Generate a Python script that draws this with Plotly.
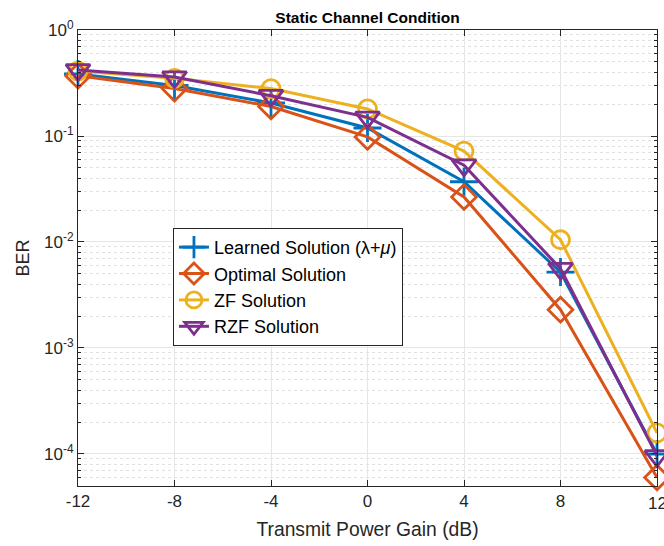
import plotly.graph_objects as go

# Transmit power gain (dB)
gain_db = [-12, -8, -4, 0, 4, 8, 12]

# Bit error rate per precoding scheme
ber_learned = [0.385, 0.30, 0.205, 0.119, 0.037, 0.0052, 1.0e-4]
ber_optimal = [0.37, 0.28, 0.19, 0.098, 0.0266, 0.0023, 6.0e-5]
ber_zf = [0.41, 0.35, 0.28, 0.18, 0.072, 0.0105, 1.58e-4]
ber_rzf = [0.42, 0.36, 0.24, 0.15, 0.053, 0.0056, 9.6e-5]

series_names = ["Learned Solution (λ+<i>μ</i>)", "Optimal Solution", "ZF Solution", "RZF Solution"]
series_values = [ber_learned, ber_optimal, ber_zf, ber_rzf]

x_ticks = [-12, -8, -4, 0, 4, 8, 12]
x_ticktext = ["-12", "-8", "-4", "0", "4", "8", "12"]
y_ticks = [1e-4, 1e-3, 1e-2, 1e-1, 1e0]
y_ticktext = ["10<sup>-4</sup>", "10<sup>-3</sup>", "10<sup>-2</sup>", "10<sup>-1</sup>", "10<sup>0</sup>"]

colors = ["#0072BD", "#D95319", "#EDB120", "#7E2F8E"]
symbols = ["cross-thin-open", "diamond-open", "circle-open", "triangle-down-open"]
sizes = [20, 19, 18, 21]

fig = go.Figure()
for i, (name, vals) in enumerate(zip(series_names, series_values)):
    fig.add_trace(go.Scatter(
        x=gain_db, y=vals, name=name, mode="lines+markers",
        line=dict(color=colors[i], width=3),
        marker=dict(symbol=symbols[i], size=sizes[i], color=colors[i],
                    line=dict(color=colors[i], width=2.8)),
        cliponaxis=False,
    ))

minor_vals = []
for e in range(-5, 0):
    for m in range(2, 10):
        v = m * 10 ** e
        if 5e-5 <= v <= 1:
            minor_vals.append(v)

axis_color = "#262626"
font_family = "Liberation Sans, Arial, sans-serif"

# The last x tick label sits at the figure edge; draw it as an annotation so it is not dropped
fig.add_annotation(x=x_ticks[-1], y=0, xref="x", yref="paper", text=x_ticktext[-1],
                   showarrow=False, xanchor="center", yanchor="top", yshift=-6,
                   font=dict(size=17, color=axis_color, family=font_family))

fig.update_layout(
    width=664, height=546,
    margin=dict(l=78, r=7, t=30, b=60),
    paper_bgcolor="white", plot_bgcolor="white",
    font=dict(family=font_family, size=17, color=axis_color),
    title=dict(text="<b>Static Channel Condition</b>", x=0.5, xref="paper",
               y=1, yref="paper", yanchor="bottom", pad=dict(b=7),
               font=dict(size=15.5, color="black")),
    xaxis=dict(
        range=[-12, 12], tickvals=x_ticks[:-1], ticktext=x_ticktext[:-1], ticks="inside",
        ticklen=6, tickcolor=axis_color, showline=True, linecolor=axis_color,
        linewidth=1, mirror="ticks", showgrid=True, gridcolor="#E6E6E6",
        gridwidth=1, zeroline=False,
        title=dict(text="Transmit Power Gain (dB)", standoff=12, font=dict(size=19.3)),
        tickfont=dict(size=17),
    ),
    yaxis=dict(
        type="log", range=[-4.302, 0], tickvals=y_ticks, ticktext=y_ticktext,
        ticks="inside", ticklen=6, tickcolor=axis_color, showline=True,
        linecolor=axis_color, linewidth=1, mirror="ticks", showgrid=True,
        gridcolor="#E6E6E6", gridwidth=1, zeroline=False,
        title=dict(text="BER", standoff=9, font=dict(size=18)),
        tickfont=dict(size=17),
        minor=dict(tickmode="array", tickvals=minor_vals, ticks="inside",
                   ticklen=3, tickcolor=axis_color, showgrid=True,
                   gridcolor="#E0E0E0", griddash="dot", gridwidth=1),
    ),
    legend=dict(
        x=0.164, y=0.566, xanchor="left", yanchor="top",
        bgcolor="white", bordercolor=axis_color, borderwidth=1,
        font=dict(size=18, color="black"),
    ),
    showlegend=True,
)

fig.write_html("out.html")
